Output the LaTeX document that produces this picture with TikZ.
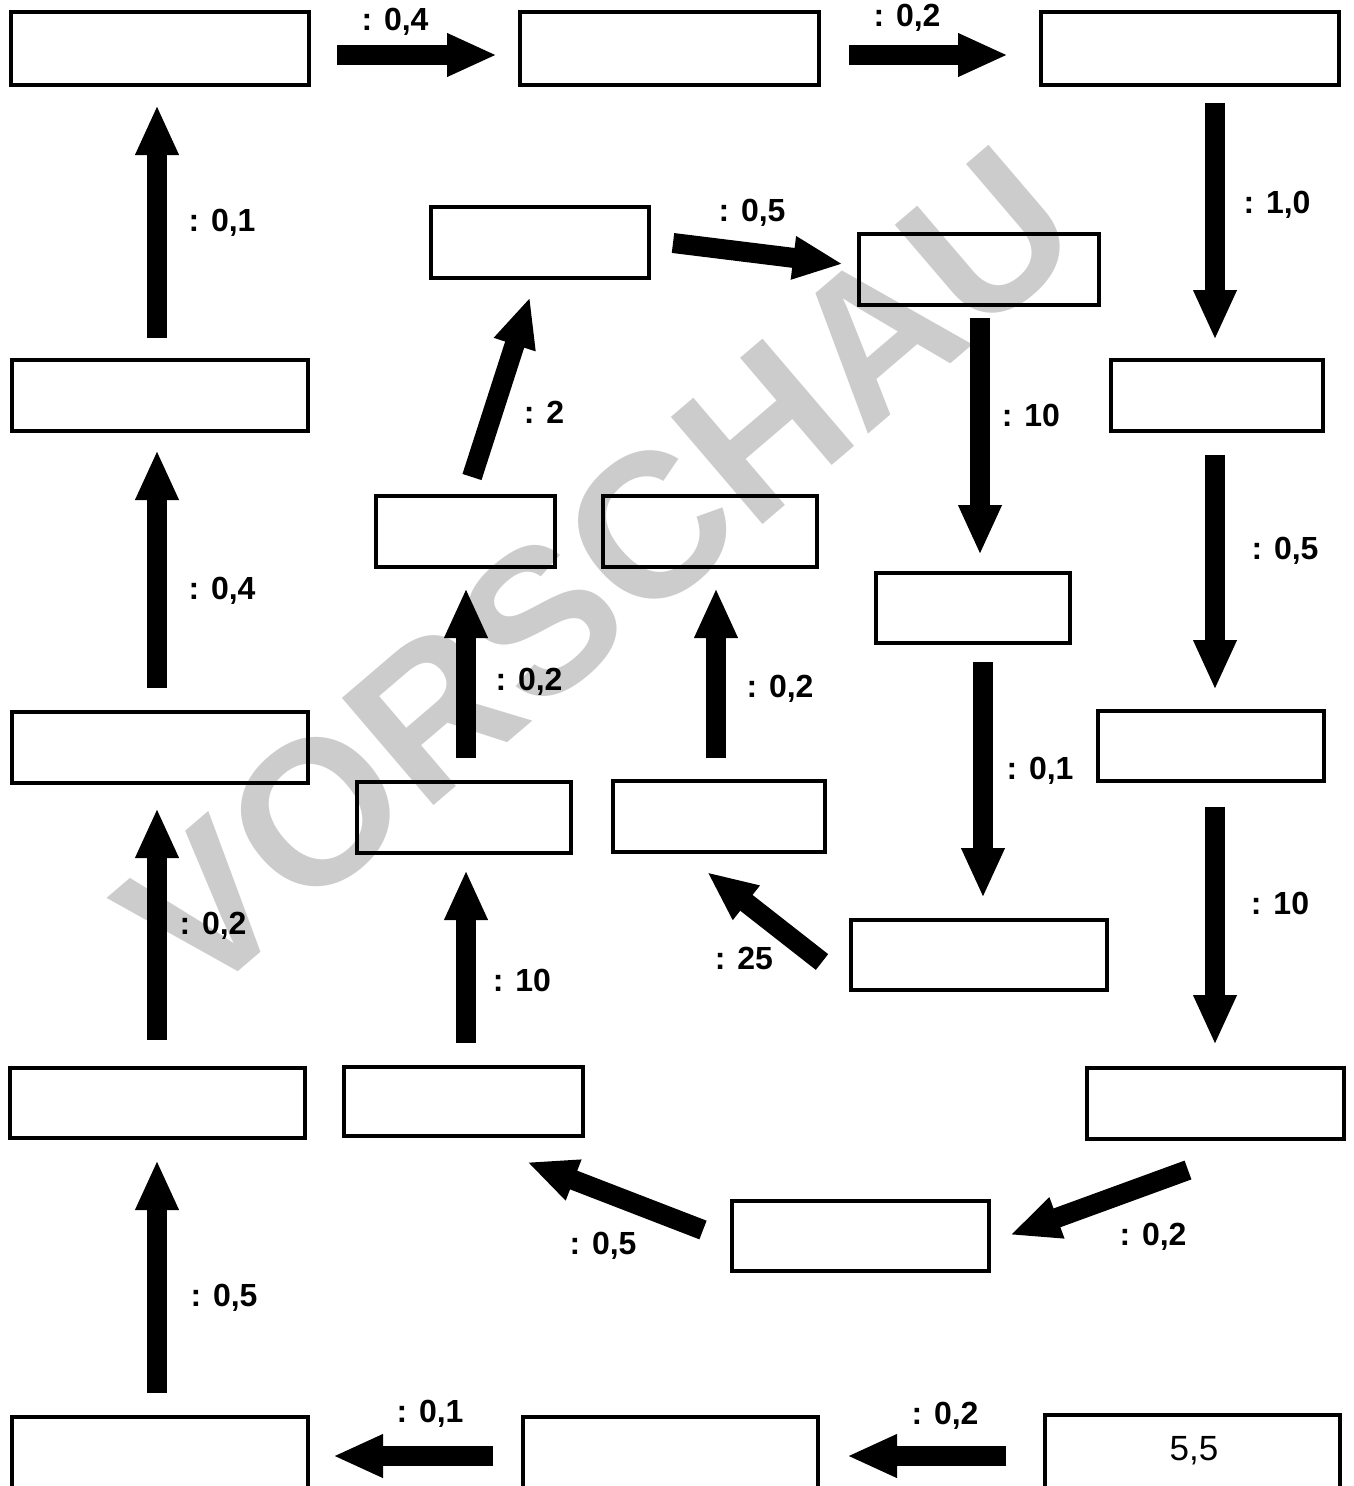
\documentclass[tikz,border=0pt]{standalone}
\usepackage{fontspec}
\setmainfont{Liberation Sans}
\usetikzlibrary{arrows.meta,fit}
\definecolor{wmgray}{HTML}{CCCCCC}
\newcommand{\lab}[1]{: #1}
\tikzset{
  box/.style={draw=black, line width=4pt, inner sep=0pt, fit={#1}},
  arr/.style={line width=20pt, -{Triangle[width=40pt,length=50pt]}},
  lbl/.style={font=\fontsize{32}{32}\selectfont\bfseries, inner sep=0pt},
  val/.style={font=\fontsize{35}{35}\selectfont, inner sep=0pt},
  wmark/.style={text=wmgray, font=\fontsize{205}{205}\selectfont\bfseries, inner sep=0pt}
}
\begin{document}
\begin{tikzpicture}[x=1pt,y=-1pt]
\useasboundingbox (0,0) rectangle (1353,1486);
\fill[white] (0,0) rectangle (1353,1486);
% watermark
\node[wmark, rotate=40.5] (wm) at (598,572) {VORSCHAU};
% boxes
\node[box={(11,12) (309,85)}] (b1) {};
\node[box={(520,12) (819,85)}] (b2) {};
\node[box={(1041,12) (1339,85)}] (b3) {};
\node[box={(1111,360) (1323,431)}] (b4) {};
\node[box={(1098,711) (1324,781)}] (b5) {};
\node[box={(1087,1068) (1344,1139)}] (b6) {};
\node[box={(732,1201) (989,1271)}] (b7) {};
\node[box={(344,1067) (583,1136)}] (b8) {};
\node[box={(357,782) (571,853)}] (b9) {};
\node[box={(376,496) (555,567)}] (b10) {};
\node[box={(431,207) (649,278)}] (b11) {};
\node[box={(859,234) (1099,305)}] (b12) {};
\node[box={(876,573) (1070,643)}] (b13) {};
\node[box={(851,920) (1107,990)}] (b14) {};
\node[box={(613,781) (825,852)}] (b15) {};
\node[box={(603,496) (817,567)}] (b16) {};
\node[box={(12,1417) (308,1500)}] (b17) {};
\node[box={(10,1068) (305,1138)}] (b18) {};
\node[box={(12,712) (308,783)}] (b19) {};
\node[box={(12,360) (308,431)}] (b20) {};
\node[box={(1045,1415) (1340,1500)}] (b21) {};
\node[box={(523,1417) (818,1500)}] (b22) {};
\node[val] (v21) at (1194,1451) {5,5};
% arrow end points
\coordinate (a1s) at (337,55);   \coordinate (a1e) at (497,55);
\coordinate (a2s) at (849,55);   \coordinate (a2e) at (1008,55);
\coordinate (a3s) at (1215,103); \coordinate (a3e) at (1215,340);
\coordinate (a4s) at (1215,455); \coordinate (a4e) at (1215,690);
\coordinate (a5s) at (1215,807); \coordinate (a5e) at (1215,1045);
\coordinate (a6s) at (1188,1170);\coordinate (a6e) at (1010,1235);
\coordinate (a7s) at (703,1230); \coordinate (a7e) at (527,1162);
\coordinate (a8s) at (466,1043); \coordinate (a8e) at (466,870);
\coordinate (a9s) at (466,758);  \coordinate (a9e) at (466,588);
\coordinate (a10s) at (472,477); \coordinate (a10e) at (530,297);
\coordinate (a11s) at (673,243); \coordinate (a11e) at (843,264);
\coordinate (a12s) at (980,318); \coordinate (a12e) at (980,555);
\coordinate (a13s) at (983,662); \coordinate (a13e) at (983,898);
\coordinate (a14s) at (822,962); \coordinate (a14e) at (707,872);
\coordinate (a15s) at (716,758); \coordinate (a15e) at (716,588);
\coordinate (a16s) at (157,338); \coordinate (a16e) at (157,105);
\coordinate (a17s) at (157,688); \coordinate (a17e) at (157,450);
\coordinate (a18s) at (157,1040);\coordinate (a18e) at (157,808);
\coordinate (a19s) at (157,1393);\coordinate (a19e) at (157,1160);
\coordinate (a20s) at (1006,1456);\coordinate (a20e) at (847,1456);
\coordinate (a21s) at (493,1456);\coordinate (a21e) at (333,1456);
% arrows
\foreach \i in {1,...,21} {\draw[arr] (a\i s) -- (a\i e);}
% labels
\node[lbl] (l1) at (395,22) {\lab{0,4}};
\node[lbl] (l2) at (907,18) {\lab{0,2}};
\node[lbl] (l3) at (1277,205) {\lab{1,0}};
\node[lbl] (l4) at (1285,551) {\lab{0,5}};
\node[lbl] (l5) at (1280,903) {\lab{10}};
\node[lbl] (l6) at (1153,1237) {\lab{0,2}};
\node[lbl] (l7) at (603,1246) {\lab{0,5}};
\node[lbl] (l8) at (522,980) {\lab{10}};
\node[lbl] (l9) at (529,682) {\lab{0,2}};
\node[lbl] (l10) at (544,412) {\lab{2}};
\node[lbl] (l11) at (752,213) {\lab{0,5}};
\node[lbl] (l12) at (1031,415) {\lab{10}};
\node[lbl] (l13) at (1040,771) {\lab{0,1}};
\node[lbl] (l14) at (744,958) {\lab{25}};
\node[lbl] (l15) at (780,689) {\lab{0,2}};
\node[lbl] (l16) at (222,223) {\lab{0,1}};
\node[lbl] (l17) at (222,591) {\lab{0,4}};
\node[lbl] (l18) at (213,926) {\lab{0,2}};
\node[lbl] (l19) at (224,1298) {\lab{0,5}};
\node[lbl] (l20) at (945,1416) {\lab{0,2}};
\node[lbl] (l21) at (430,1414) {\lab{0,1}};
\end{tikzpicture}
\end{document}
